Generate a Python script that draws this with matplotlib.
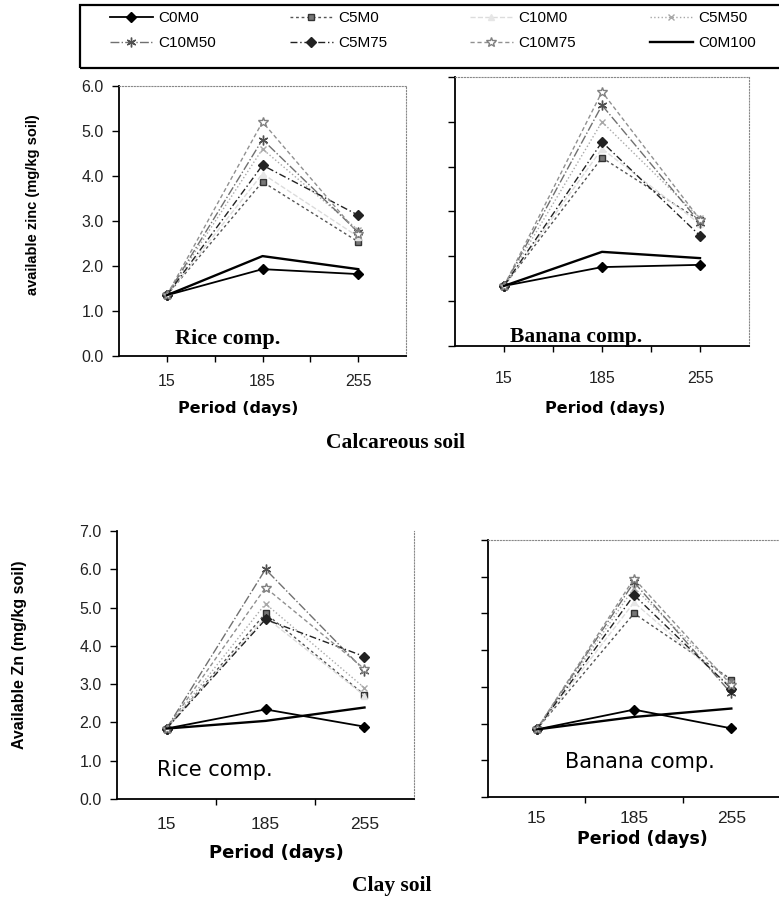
import matplotlib
matplotlib.use("Agg")
import matplotlib.pyplot as plt
from matplotlib.patches import Rectangle

# x categories (days)
periods = ["15", "185", "255"]
series = ["C0M0", "C5M0", "C10M0", "C5M50", "C10M50", "C5M75", "C10M75", "C0M100"]

# Calcareous soil - rice compost
calc_rice = {
    "C0M0":   [1.35, 1.93, 1.82],
    "C5M0":   [1.35, 3.87, 2.54],
    "C10M0":  [1.35, 4.05, 2.65],
    "C5M50":  [1.35, 4.60, 2.80],
    "C10M50": [1.35, 4.81, 2.75],
    "C5M75":  [1.35, 4.24, 3.13],
    "C10M75": [1.35, 5.20, 2.72],
    "C0M100": [1.35, 2.22, 1.93],
}
# Calcareous soil - banana compost
calc_banana = {
    "C0M0":   [1.34, 1.76, 1.81],
    "C5M0":   [1.34, 4.20, 2.80],
    "C10M0":  [1.34, 4.40, 2.72],
    "C5M50":  [1.34, 5.00, 2.85],
    "C10M50": [1.34, 5.37, 2.75],
    "C5M75":  [1.34, 4.55, 2.46],
    "C10M75": [1.34, 5.67, 2.82],
    "C0M100": [1.34, 2.10, 1.96],
}
# Clay soil - rice compost
clay_rice = {
    "C0M0":   [1.84, 2.34, 1.89],
    "C5M0":   [1.84, 4.85, 2.72],
    "C10M0":  [1.84, 4.75, 2.70],
    "C5M50":  [1.84, 5.10, 2.90],
    "C10M50": [1.84, 6.00, 3.35],
    "C5M75":  [1.84, 4.69, 3.72],
    "C10M75": [1.84, 5.52, 3.40],
    "C0M100": [1.84, 2.04, 2.39],
}
# Clay soil - banana compost
clay_banana = {
    "C0M0":   [1.84, 2.38, 1.87],
    "C5M0":   [1.84, 5.00, 3.20],
    "C10M0":  [1.84, 5.30, 3.00],
    "C5M50":  [1.84, 5.70, 3.10],
    "C10M50": [1.84, 5.85, 2.82],
    "C5M75":  [1.84, 5.50, 2.95],
    "C10M75": [1.84, 5.95, 3.05],
    "C0M100": [1.84, 2.18, 2.41],
}

styles = {
    "C0M0":   dict(color="black", ls="-", lw=1.3, marker="D", ms=5, mfc="black", mec="black"),
    "C5M0":   dict(color="#555555", ls=(0, (2, 2)), lw=1.0, marker="s", ms=5, mfc="#777777", mec="#333333"),
    "C10M0":  dict(color="#dcdcdc", ls="--", lw=1.0, marker="^", ms=4, mfc="#e6e6e6", mec="#e6e6e6"),
    "C5M50":  dict(color="#a8a8a8", ls=":", lw=1.0, marker="x", ms=4, mec="#a8a8a8"),
    "C10M50": dict(color="#707070", ls="-.", lw=1.0, marker=(6, 2, 0), ms=7, mec="#505050"),
    "C5M75":  dict(color="#222222", ls=(0, (5, 2, 1, 2)), lw=1.0, marker="D", ms=5, mfc="#222222", mec="#222222"),
    "C10M75": dict(color="#909090", ls=(0, (3, 2)), lw=1.0, marker="*", ms=7, mfc="white", mec="#808080"),
    "C0M100": dict(color="black", ls="-", lw=1.7, marker=None),
}

W, H = 779, 905
fig = plt.figure(figsize=(W / 100, H / 100), dpi=100)


def px_axes(x0, y_top, w, y_bot):
    return fig.add_axes([x0 / W, 1 - y_bot / H, w / W, (y_bot - y_top) / H])


def draw(ax, data, ymax, ylabels, top_style, xpad):
    x = range(len(periods))
    for s in series:
        ax.plot(x, data[s], label=s, **styles[s])
    ax.set_xlim(-0.5, 2.5)
    ax.set_ylim(0, ymax)
    ax.set_yticks(range(ymax + 1))
    if ylabels:
        ax.set_yticklabels([f"{v:.1f}" for v in range(ymax + 1)],
                           fontsize=11.5, family="Liberation Sans", color="#222222")
    else:
        ax.set_yticklabels([])
    ax.set_xticks(range(len(periods)))
    fs = 11.5 if top_style else 12.5
    ax.set_xticklabels(periods, fontsize=fs, family="Liberation Sans", color="#222222")
    ax.set_xticks([0.5, 1.5], minor=True)
    if top_style:
        ax.tick_params(axis="x", which="both", length=4, width=1, pad=xpad)
    else:
        ax.tick_params(axis="x", which="major", length=0, pad=xpad)
        ax.tick_params(axis="x", which="minor", length=4, width=1)
    ax.tick_params(axis="y", length=5, width=1, pad=6, direction="out")
    for sp in ["left", "bottom"]:
        ax.spines[sp].set_linewidth(1.3)
    for sp in ["top", "right"]:
        ax.spines[sp].set_linestyle(":")
        ax.spines[sp].set_color("#888888")
        ax.spines[sp].set_linewidth(0.8)


ax1 = px_axes(119, 86, 287, 356)
draw(ax1, calc_rice, 6, True, True, 9)
ax2 = px_axes(455, 77, 294, 346)
draw(ax2, calc_banana, 6, False, True, 14)
ax3 = px_axes(117, 531, 297, 799)
draw(ax3, clay_rice, 7, True, False, 13)
ax3.spines["top"].set_visible(False)
ax4 = px_axes(488, 540, 292, 797)
draw(ax4, clay_banana, 7, False, False, 10)
ax4.spines["right"].set_visible(False)

# axis labels
fig.text(33 / W, 1 - 205 / H, "available zinc (mg/kg soil)", rotation=90, ha="center", va="center",
         fontsize=10.5, fontweight="bold", family="Liberation Sans")
fig.text(20 / W, 1 - 655 / H, "Available Zn (mg/kg soil)", rotation=90, ha="center", va="center",
         fontsize=11.5, fontweight="bold", family="Liberation Sans")
fig.text(238 / W, 1 - 408 / H, "Period (days)", ha="center", va="center",
         fontsize=11.5, fontweight="bold", family="DejaVu Sans")
fig.text(605 / W, 1 - 408 / H, "Period (days)", ha="center", va="center",
         fontsize=11.5, fontweight="bold", family="DejaVu Sans")
fig.text(276 / W, 1 - 853 / H, "Period (days)", ha="center", va="center",
         fontsize=13, fontweight="bold", family="DejaVu Sans")
fig.text(642 / W, 1 - 839 / H, "Period (days)", ha="center", va="center",
         fontsize=12.5, fontweight="bold", family="DejaVu Sans")

# panel annotations
fig.text(228 / W, 1 - 339 / H, "Rice comp.", ha="center", va="center",
         fontsize=16, fontweight="bold", family="Liberation Serif")
fig.text(576 / W, 1 - 337 / H, "Banana comp.", ha="center", va="center",
         fontsize=15.5, fontweight="bold", family="Liberation Serif")
fig.text(215 / W, 1 - 770 / H, "Rice comp.", ha="center", va="center",
         fontsize=15, family="DejaVu Sans")
fig.text(640 / W, 1 - 762 / H, "Banana comp.", ha="center", va="center",
         fontsize=15, family="DejaVu Sans")
fig.text(395 / W, 1 - 443 / H, "Calcareous soil", ha="center", va="center",
         fontsize=15.5, fontweight="bold", family="Liberation Serif")
fig.text(392 / W, 1 - 886 / H, "Clay soil", ha="center", va="center",
         fontsize=15.5, fontweight="bold", family="Liberation Serif")

# legend: four columns, two rows (row-wise order), inside an open box
handles, labels = ax1.get_legend_handles_labels()
col_x = [110, 290, 470, 650]
for i, cx in enumerate(col_x):
    leg = fig.legend([handles[i], handles[i + 4]], [labels[i], labels[i + 4]],
                     loc="upper left", bbox_to_anchor=(cx / W, 1 - 11 / H),
                     frameon=False, borderpad=0, borderaxespad=0,
                     prop={"family": "Liberation Sans", "size": 11},
                     handlelength=2.8, handletextpad=0.35, labelspacing=0.72)
fig.add_artist(Rectangle((80 / W, 1 - 68 / H), 720 / W, 63 / H, transform=fig.transFigure,
                         fill=False, edgecolor="black", linewidth=1.6))

fig.savefig("out.png", dpi=100)
